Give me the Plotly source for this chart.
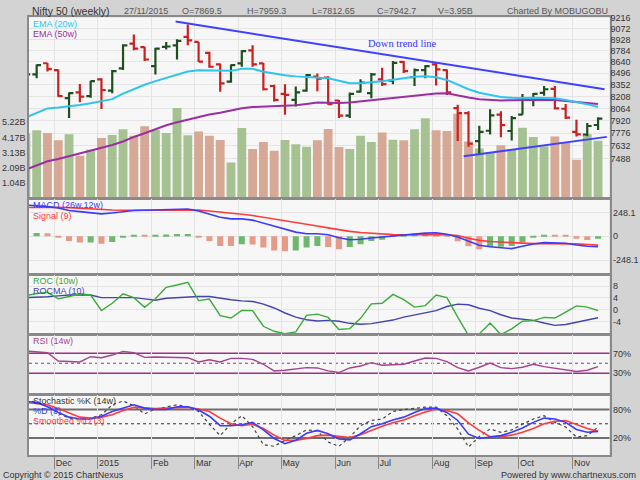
import math
import plotly.graph_objects as go

# ---------------- data ----------------
weeks = ["2014-11-21", "2014-11-28", "2014-12-05", "2014-12-12", "2014-12-19", "2014-12-26",
         "2015-01-02", "2015-01-09", "2015-01-16", "2015-01-23", "2015-01-30", "2015-02-06",
         "2015-02-13", "2015-02-20", "2015-02-27", "2015-03-06", "2015-03-13", "2015-03-20",
         "2015-03-27", "2015-04-03", "2015-04-10", "2015-04-17", "2015-04-24", "2015-05-01",
         "2015-05-08", "2015-05-15", "2015-05-22", "2015-05-29", "2015-06-05", "2015-06-12",
         "2015-06-19", "2015-06-26", "2015-07-03", "2015-07-10", "2015-07-17", "2015-07-24",
         "2015-07-31", "2015-08-07", "2015-08-14", "2015-08-21", "2015-08-28", "2015-09-04",
         "2015-09-11", "2015-09-18", "2015-09-25", "2015-10-02", "2015-10-09", "2015-10-16",
         "2015-10-23", "2015-10-30", "2015-11-06", "2015-11-13", "2015-11-20", "2015-11-27"]

opens = [8380, 8480, 8619, 8533, 8187, 8256, 8212, 8417, 8279, 8554, 8872, 8826, 8583, 8830,
         8850, 8960, 8894, 8752, 8604, 8389, 8617, 8784, 8617, 8335, 8238, 8166, 8279, 8450,
         8440, 8159, 7978, 8266, 8247, 8417, 8401, 8636, 8445, 8533, 8604, 8533, 8068, 8009,
         7685, 7803, 7990, 7800, 7990, 8180, 8250, 8300, 8060, 7790, 7760, 7869.5]
highs = [8510, 8604, 8623, 8541, 8256, 8359, 8401, 8430, 8533, 8863, 8994, 8830, 8817, 8894,
         8928, 9126, 8894, 8766, 8617, 8604, 8786, 8850, 8623, 8349, 8358, 8329, 8483, 8490,
         8456, 8166, 8256, 8417, 8496, 8563, 8649, 8649, 8554, 8595, 8623, 8541, 8108, 8030,
         7862, 8055, 8030, 7975, 8237, 8250, 8336, 8336, 8116, 7930, 7893, 7959.3]
lows = [8320, 8430, 8516, 8205, 7951, 8138, 8193, 8056, 8247, 8533, 8786, 8649, 8479, 8795,
        8667, 8850, 8636, 8562, 8266, 8376, 8575, 8575, 8279, 8146, 7989, 8088, 8266, 8270,
        8108, 7951, 7951, 8256, 8187, 8335, 8358, 8496, 8335, 8430, 8341, 8226, 7685, 7620,
        7536, 7760, 7730, 7691, 7990, 8090, 8215, 8050, 7940, 7736, 7740, 7812.65]
closes = [8480, 8595, 8545, 8212, 8247, 8205, 8396, 8286, 8520, 8850, 8808, 8667, 8808, 8835,
          8907, 8915, 8640, 8575, 8368, 8595, 8775, 8604, 8295, 8166, 8226, 8256, 8470, 8425,
          8115, 7978, 8238, 8376, 8479, 8359, 8623, 8519, 8533, 8583, 8541, 8256, 8009, 7655,
          7790, 7981, 7868, 7950, 8189, 8238, 8295, 8065, 7955, 7762, 7858, 7942.7]
prev_close = 8390
volumes_b = [4.45, 4.67, 4.47, 3.98, 4.40, 2.90, 3.32, 4.13, 4.34, 4.74,
             4.29, 4.95, 4.70, 4.47, 6.20, 4.33, 4.59, 4.29, 3.99, 2.44,
             4.83, 3.37, 3.85, 3.26, 3.99, 3.70, 3.53, 3.97, 4.76, 3.51,
             3.37, 4.29, 3.85, 4.52, 4.01, 3.97, 4.74, 5.50, 4.67, 4.61,
             5.81, 3.90, 3.40, 3.15, 3.63, 3.35, 4.84, 4.20, 3.56, 4.24,
             3.80, 2.64, 4.40, 3.95]

ema20 = [7957, 8011, 8064, 8076, 8089, 8106, 8127, 8149, 8175, 8241,
         8298, 8350, 8395, 8438, 8478, 8515, 8531, 8527, 8519, 8523,
         8550, 8550, 8513, 8490, 8467, 8454, 8448, 8443, 8430, 8399,
         8368, 8368, 8378, 8395, 8412, 8430, 8448, 8456, 8444, 8410,
         8356, 8295, 8252, 8222, 8200, 8192, 8188, 8193, 8193, 8186,
         8164, 8140, 8115, 8081]
ema50 = [7369, 7416, 7460, 7484, 7515, 7542, 7571, 7603, 7640, 7680,
         7732, 7775, 7823, 7866, 7902, 7932, 7965, 7992, 8014, 8041,
         8066, 8080, 8086, 8090, 8094, 8103, 8118, 8134, 8132, 8128,
         8135, 8149, 8161, 8179, 8191, 8207, 8220, 8235, 8244, 8245,
         8225, 8196, 8175, 8165, 8160, 8163, 8166, 8167, 8167, 8165,
         8153, 8141, 8127, 8118]

macd = [327, 320, 310, 296, 269, 258, 244, 234, 244, 258,
        269, 272, 275, 279, 282, 286, 265, 234, 200, 182,
        182, 169, 138, 103, 68, 44, 27, 27, 17, -14,
        -35, -31, -18, -7, 6, 17, 27, 34, 37, 21,
        -7, -52, -93, -108, -118, -128, -103, -80, -66, -66,
        -72, -90, -103, -108]
signal = [300, 302, 303, 303, 300, 293, 284, 279, 275, 272,
          272, 272, 272, 272, 275, 279, 275, 265, 251, 241,
          230, 217, 200, 182, 165, 148, 128, 108, 88, 68,
          52, 40, 31, 23, 18, 17, 19, 21, 21, 17,
          8, -20, -42, -54, -60, -66, -74, -76, -76, -76,
          -76, -79, -85, -92]
macd_hist = [21, 34, 33, -10, -48, -65, -63, -76, -59, -14,
             17, 10, 17, 18, 24, 25, -10, -48, -100, -101,
             -83, -84, -117, -148, -155, -148, -117, -100, -110, -134,
             -110, -83, -48, -35, 17, 18, 27, 28, 17, 10,
             -52, -103, -134, -110, -109, -100, -59, -14, 17, 10,
             9, -24, -38, -24]

roc = [4.8, 5.5, 5.9, 3.7, 4.5, 5.4, 5.0, -0.3, 2.2, 5.4,
       4.1, 0.8, 3.7, 7.6, 8.4, 9.3, 3.1, 3.6, -2.0, -2.8,
       -0.2, -0.3, -5.6, -7.3, -8.1, -7.5, -1.9, -1.5, -2.6, -6.7,
       -6.4, -2.9, 2.0, 2.2, 5.2, 3.4, 0.9, 1.4, 5.0, 4.1,
       -2.5, -8.7, -8.2, -4.5, -8.4, -6.5, -3.9, -3.7, -2.6, -2.8,
       -0.8, 1.3, 0.9, -0.3]
rocma = [4.1, 4.2, 4.4, 4.7, 5.0, 5.0, 5.0, 4.1, 4.1, 4.1,
         4.1, 3.7, 3.2, 3.9, 4.1, 4.5, 4.5, 4.5, 3.9, 3.4,
         3.0, 2.8, 1.9, 0.6, -1.1, -2.5, -3.4, -3.8, -3.6, -3.9,
         -4.6, -4.9, -4.7, -4.2, -3.5, -2.5, -1.7, -1.1, -0.3, 1.1,
         1.9, 1.7, 0.5, -0.3, -1.7, -2.8, -3.2, -3.6, -4.5, -5.3,
         -5.0, -4.3, -3.4, -2.7]

rsi = [74.6, 73.3, 71.3, 54.6, 53.3, 52.6, 63.3, 61.3, 66.6, 73.9,
       71.3, 62.0, 62.6, 62.6, 62.6, 61.3, 52.6, 57.0, 52.6, 60.0,
       60.0, 58.0, 48.0, 34.6, 36.0, 38.6, 41.3, 40.6, 34.6, 31.3,
       40.6, 44.6, 51.3, 46.0, 46.6, 48.0, 54.6, 60.6, 60.0, 53.3,
       41.3, 34.6, 42.0, 50.6, 41.3, 39.3, 42.0, 48.0, 43.3, 40.0,
       36.6, 33.3, 36.0, 43.3]

stoch_k = [99, 96, 88, 72, 62, 60, 62, 69, 90, 98,
           88, 71, 81, 86, 90, 86, 76, 49, 25, 50,
           67, 44, 6, 2.5, 15, 25, 37, 35, 11.5, 2.5,
           22, 46, 57, 60, 76, 80, 82, 85, 85, 67,
           39, 1, 23, 39, 32, 37, 49, 60, 67, 53,
           43, 22, 25, 43]
stoch_d = [97, 95, 86, 74, 64, 60, 60, 66, 76, 83,
           90, 83, 80, 80, 86, 86, 79, 66, 46, 46,
           48, 53, 37, 19, 8, 15, 30, 36, 29, 18,
           16, 29, 44, 50, 58, 64, 74, 82, 83, 74,
           57, 28, 19, 22, 25, 32, 41, 53, 62, 60,
           53, 38, 32, 34]
stoch_sd = [95, 93, 90, 82, 73, 64, 62, 64, 69, 78,
            85, 83, 82, 83, 84, 85, 81, 76, 62, 50,
            46, 49, 40, 26, 15, 15, 19, 25, 26, 23,
            21, 27, 36, 45, 52, 58, 67, 75, 81, 78,
            71, 52, 36, 23, 23, 26, 32, 40, 50, 55,
            57, 48, 40, 34]

month_first_weeks = ["2014-12-05", "2015-01-02", "2015-02-06", "2015-03-06", "2015-04-03",
                     "2015-05-01", "2015-06-05", "2015-07-03", "2015-08-07", "2015-09-04",
                     "2015-10-02", "2015-11-06"]
month_labels = ["Dec", "2015", "Feb", "Mar", "Apr", "May", "Jun", "Jul", "Aug", "Sep", "Oct", "Nov"]

price_ticks = [9216, 9072, 8928, 8784, 8640, 8496, 8352, 8208, 8064, 7920, 7776, 7632, 7488]
vol_ticks = [1.044, 2.088, 3.132, 4.176, 5.22]
vol_tick_text = ["1.04B", "2.09B", "3.13B", "4.17B", "5.22B"]
macd_ticks = [248.1, 0, -248.1]
roc_ticks = [8, 4, 0, -4]
rsi_ticks = [70, 30]
stoch_ticks = [80, 20]

# hand-drawn trend lines (bar position, price)
trend_down_pos = [13.87, 53.6]
trend_down_price = [9166, 8295]
trend_up_pos = [40.55, 53.81]
trend_up_price = [7514, 7733]

# ---------------- layout helpers ----------------
W, H = 640, 480
def fx(p):
    return p / W
def fy(p):
    return 1 - p / H

X_DOM = [fx(29), fx(609.5)]
D_MAIN = [fy(195.5), fy(13.5)]
D_MACD = [fy(272), fy(196.5)]
D_ROC = [fy(333), fy(273)]
D_RSI = [fy(393), fy(334)]
D_STO = [fy(455), fy(394)]
X_RANGE = [0.29, 54.06]

xi = list(range(len(weeks)))
tickpos = [weeks.index(w) + 0.65 for w in month_first_weeks]

GREEN_BAR = "#1f4f1f"
RED_BAR = "#cc1f1f"
VOL_UP = "#a6c293"
VOL_DN = "#d6a996"
GRID = "#e4e4e4"
FRAME = "#8a8a8a"
FONT = "Liberation Sans"

fig = go.Figure()

# volume
vol_colors = []
pc = prev_close
for c in closes:
    vol_colors.append(VOL_UP if c >= pc else VOL_DN)
    pc = c
fig.add_trace(go.Bar(x=xi, y=volumes_b, width=0.82, marker=dict(color=vol_colors, line=dict(width=0)),
                     xaxis="x", yaxis="y", hoverinfo="skip"))

# EMAs
fig.add_trace(go.Scatter(x=xi, y=ema50, mode="lines", line=dict(color="#9b2fa0", width=2),
                         xaxis="x", yaxis="y2"))
fig.add_trace(go.Scatter(x=xi, y=ema20, mode="lines", line=dict(color="#2ec4f0", width=2),
                         xaxis="x", yaxis="y2"))
# price bars
fig.add_trace(go.Ohlc(x=xi, open=opens, high=highs, low=lows, close=closes, tickwidth=0.4,
                      increasing=dict(line=dict(color=GREEN_BAR, width=2.2)),
                      decreasing=dict(line=dict(color=RED_BAR, width=2.2)),
                      xaxis="x", yaxis="y2"))
# trend lines
fig.add_trace(go.Scatter(x=trend_down_pos, y=trend_down_price, mode="lines",
                         line=dict(color="#4040ff", width=2), xaxis="x", yaxis="y2"))
fig.add_trace(go.Scatter(x=trend_up_pos, y=trend_up_price, mode="lines",
                         line=dict(color="#4040ff", width=2), xaxis="x", yaxis="y2"))

# MACD
hist_colors = []
prev = None
for h in macd_hist:
    hist_colors.append("#6cb86c" if (prev is None or h > prev) else "#e89a88")
    prev = h
fig.add_trace(go.Bar(x=xi, y=macd_hist, width=0.56, marker=dict(color=hist_colors, line=dict(width=0)),
                     xaxis="x2", yaxis="y3"))
fig.add_trace(go.Scatter(x=xi, y=signal, mode="lines", line=dict(color="#ff3b3b", width=1.6),
                         xaxis="x2", yaxis="y3"))
fig.add_trace(go.Scatter(x=xi, y=macd, mode="lines", line=dict(color="#3b3bff", width=1.6),
                         xaxis="x2", yaxis="y3"))

# ROC
fig.add_trace(go.Scatter(x=xi, y=rocma, mode="lines", line=dict(color="#4444b0", width=1.4),
                         xaxis="x3", yaxis="y4"))
fig.add_trace(go.Scatter(x=xi, y=roc, mode="lines", line=dict(color="#3aaa3a", width=1.4),
                         xaxis="x3", yaxis="y4"))

# RSI
fig.add_trace(go.Scatter(x=xi, y=rsi, mode="lines", line=dict(color="#a5448f", width=1.4),
                         xaxis="x4", yaxis="y5"))

# Stochastic
fig.add_trace(go.Scatter(x=xi, y=stoch_k, mode="lines", line=dict(color="#444444", width=1.2, dash="dot"),
                         xaxis="x5", yaxis="y6"))
fig.add_trace(go.Scatter(x=xi, y=stoch_sd, mode="lines", line=dict(color="#ff3b3b", width=1.6),
                         xaxis="x5", yaxis="y6"))
fig.add_trace(go.Scatter(x=xi, y=stoch_d, mode="lines", line=dict(color="#3b3bff", width=1.6),
                         xaxis="x5", yaxis="y6"))

# ---------------- axes ----------------
def xaxis(bottom=False):
    d = dict(domain=X_DOM, range=X_RANGE, tickmode="array", tickvals=tickpos,
             showgrid=True, gridcolor=GRID, gridwidth=1, zeroline=False,
             showline=True, mirror=True, linecolor=FRAME, linewidth=1.5,
             fixedrange=True)
    if bottom:
        d.update(ticktext=month_labels, ticks="outside", ticklen=12, tickwidth=1, tickcolor="#888",
                 ticklabelposition="outside right", ticklabelstandoff=-2,
                 tickfont=dict(family=FONT, size=9, color="#333"))
    else:
        d.update(showticklabels=False, ticks="")
    return d

tf = dict(family=FONT, size=9, color="#333")
layout = dict(
    width=W, height=H, margin=dict(l=0, r=0, t=0, b=0),
    paper_bgcolor="#d3d3d3", plot_bgcolor="#f7f7f7",
    showlegend=False, barmode="overlay",
    xaxis=dict(xaxis(), rangeslider=dict(visible=False)),
    xaxis2=dict(xaxis(), anchor="y3"),
    xaxis3=dict(xaxis(), anchor="y4"),
    xaxis4=dict(xaxis(), anchor="y5"),
    xaxis5=dict(xaxis(bottom=True), anchor="y6"),
    yaxis=dict(domain=D_MAIN, range=[0, (195.5 - 13.5) * 1.044 / 15.25], anchor="x", side="left",
               tickvals=vol_ticks, ticktext=vol_tick_text, showgrid=False, zeroline=False,
               showline=True, mirror=True, linecolor=FRAME, linewidth=1.5, ticks="",
               tickfont=tf, fixedrange=True),
    yaxis2=dict(domain=D_MAIN, type="log", range=[math.log10(7068), math.log10(9222)],
                overlaying="y", anchor="x", side="right", tickvals=price_ticks,
                ticktext=[str(v) for v in price_ticks], showgrid=True, gridcolor=GRID,
                zeroline=False, ticks="", tickfont=tf, fixedrange=True),
    yaxis3=dict(domain=D_MACD, range=[-390, 391], anchor="x2", side="right",
                tickvals=macd_ticks, ticktext=["248.1", "0", "-248.1"], showgrid=True, gridcolor=GRID,
                zeroline=False, showline=True, mirror=True, linecolor=FRAME, linewidth=1.5,
                ticks="", tickfont=tf, fixedrange=True),
    yaxis4=dict(domain=D_ROC, range=[-8.30, 11.87], anchor="x3", side="right",
                tickvals=roc_ticks, ticktext=[str(v) for v in roc_ticks], showgrid=True, gridcolor=GRID,
                zeroline=False, showline=True, mirror=True, linecolor=FRAME, linewidth=1.5,
                ticks="", tickfont=tf, fixedrange=True),
    yaxis5=dict(domain=D_RSI, range=[-11.4, 106.6], anchor="x4", side="right",
                tickvals=rsi_ticks, ticktext=[f"{v}%" for v in rsi_ticks], showgrid=False,
                zeroline=False, showline=True, mirror=True, linecolor=FRAME, linewidth=1.5,
                ticks="", tickfont=tf, fixedrange=True),
    yaxis6=dict(domain=D_STO, range=[-16.3, 111.3], anchor="x5", side="right",
                tickvals=stoch_ticks, ticktext=[f"{v}%" for v in stoch_ticks], showgrid=False,
                zeroline=False, showline=True, mirror=True, linecolor=FRAME, linewidth=1.5,
                ticks="", tickfont=tf, fixedrange=True),
)
fig.update_layout(**layout)

# reference lines
shapes = []
for v in rsi_ticks:
    shapes.append(dict(type="line", xref="paper", yref="y5", x0=X_DOM[0], x1=X_DOM[1], y0=v, y1=v,
                       line=dict(color="#993388", width=1.5), layer="below"))
shapes.append(dict(type="line", xref="paper", yref="y5", x0=X_DOM[0], x1=X_DOM[1], y0=50, y1=50,
                   line=dict(color="#993388", width=1, dash="dot"), layer="below"))
for v in stoch_ticks:
    shapes.append(dict(type="line", xref="paper", yref="y6", x0=X_DOM[0], x1=X_DOM[1], y0=v, y1=v,
                       line=dict(color="#6e6e6e", width=2), layer="below"))
shapes.append(dict(type="line", xref="paper", yref="y6", x0=X_DOM[0], x1=X_DOM[1], y0=50, y1=50,
                   line=dict(color="#333333", width=1, dash="dot"), layer="below"))
fig.update_layout(shapes=shapes)

# ---------------- texts ----------------
ann = []
def label(x, y, text, color="#333", size=9, anchor="left", family=FONT):
    ann.append(dict(x=fx(x), y=fy(y), xref="paper", yref="paper", text=text, showarrow=False,
                    xanchor=anchor, yanchor="middle", font=dict(family=family, size=size, color=color)))

last = weeks[-1]
date_txt = f"{last[8:10]}/{last[5:7]}/{last[0:4]}"
label(30, 7, "Nifty 50 (weekly)", "#333", 10.5)
label(122, 7, date_txt, "#555")
label(180, 7, f"O={opens[-1]:g}", "#555")
label(245, 7, f"H={highs[-1]:g}", "#555")
label(310, 7, f"L={lows[-1]:g}", "#555")
label(375, 7, f"C={closes[-1]:g}", "#555")
label(436, 7, f"V={volumes_b[-1]:.2f}B", "#555")
label(610, 7, "Charted By MOBUGOBU", "#555", 9, "right")

label(31, 20.5, "EMA (20w)", "#2ec4f0")
label(31, 30.5, "EMA (50w)", "#9b2fa0")
label(366, 40, "Down trend line", "#3333ff", 10.5, "left", "Liberation Serif")
label(31, 203, "MACD (26w,12w)", "#3b3bff")
label(31, 213.5, "Signal (9)", "#ff3b3b")
label(31, 279.5, "ROC (10w)", "#3aaa3a")
label(31, 289, "ROCMA (10)", "#4444b0")
label(31, 340, "RSI (14w)", "#a5448f")
label(31, 400.5, "Stochastic %K (14w)", "#333")
label(31, 410.5, "%D (3)", "#3b3bff")
label(31, 420, "Smoothed %D (3)", "#ff3b3b")
label(1, 475, "Copyright \u00a9 2015 ChartNexus", "#333")
label(638, 475, "Powered by www.chartnexus.com", "#333", 9, "right")
fig.update_layout(annotations=ann)

fig.write_html("out.html", config={"displayModeBar": False},
               post_script="document.body.style.margin='0';document.body.style.overflow='hidden';")
